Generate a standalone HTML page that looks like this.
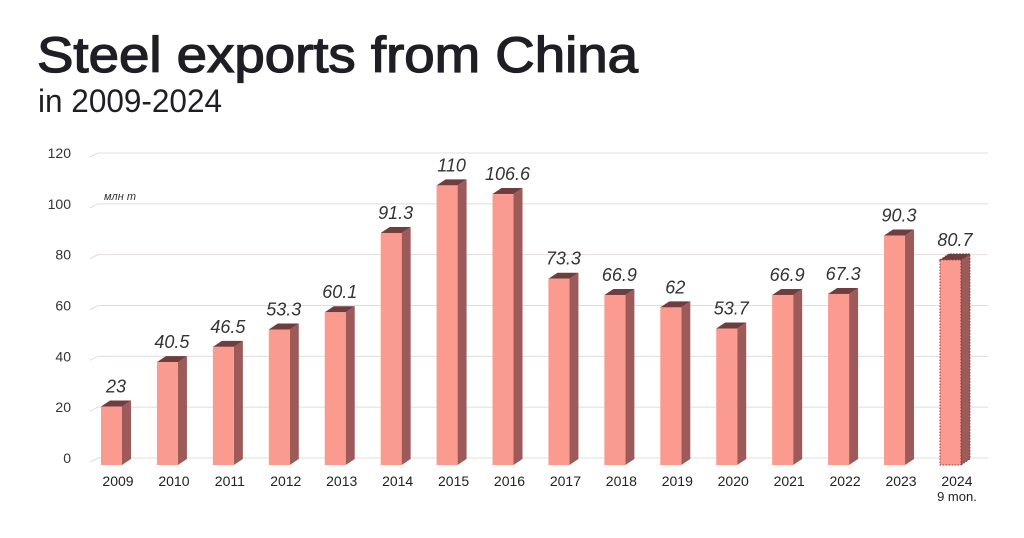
<!DOCTYPE html>
<html><head><meta charset="utf-8"><style>
html,body{margin:0;padding:0;background:#fff;}
svg{display:block;font-family:"Liberation Sans",sans-serif;}
</style></head><body>
<svg id="chart" width="1024" height="538" viewBox="0 0 1024 538" xmlns="http://www.w3.org/2000/svg">
<rect width="1024" height="538" fill="#fff"/>
<text x="37" y="72" font-size="50" fill="#1e1e24" stroke="#1e1e24" stroke-width="1.3" textLength="601" lengthAdjust="spacingAndGlyphs">Steel exports from China</text>
<text x="38" y="112" font-size="32" fill="#1e1e24" textLength="184" lengthAdjust="spacingAndGlyphs">in 2009-2024</text>
<text x="104" y="200" font-size="11" font-style="italic" fill="#333">млн т</text>
<g id="grid"></g><g id="bars"></g><g id="labels"></g>
</svg>
<script>
const categories=["2009","2010","2011","2012","2013","2014","2015","2016","2017","2018","2019","2020","2021","2022","2023","2024"];
const values=[23,40.5,46.5,53.3,60.1,91.3,110,106.6,73.3,66.9,62,53.7,66.9,67.3,90.3,80.7];
const valueLabels=["23","40.5","46.5","53.3","60.1","91.3","110","106.6","73.3","66.9","62","53.7","66.9","67.3","90.3","80.7"];
const yTicks=[0,20,40,60,80,100,120];
const NS="http://www.w3.org/2000/svg";
function y(v){return 458-v*(305/120);}
function x(i){return 118+i*55.93;}
function mk(tag,attrs,parent){const e=document.createElementNS(NS,tag);for(const k in attrs)e.setAttribute(k,attrs[k]);parent.appendChild(e);return e;}
const grid=document.getElementById('grid'),bars=document.getElementById('bars'),labels=document.getElementById('labels');
yTicks.forEach(t=>{
 const gy=y(t);
 const l=mk('path',{d:`M90 ${gy+4} L98 ${gy} L988 ${gy}`,stroke:'#e4dcdc',fill:'none','stroke-width':1},grid);
 
 
 const tx=mk('text',{x:71,y:gy+5,'text-anchor':'end','font-size':14,fill:'#333'},grid);
 tx.textContent=t;
 
 
});
const fw=21,sw=9,dy=6;
categories.forEach((c,i)=>{
 const fl=x(i)-17, base=465, top=base-values[i]*(305/120);
 const g=mk('g',{},bars);
 
 
 const dash=i===15?{'stroke':'#7a3e3e','stroke-dasharray':'1.5 1.5','stroke-width':1}:{};
 mk('polygon',Object.assign({points:`${fl+fw},${top} ${fl+fw+sw},${top-dy} ${fl+fw+sw},${base-dy} ${fl+fw},${base}`,fill:'#9c5a5a'},dash),g);
 mk('polygon',Object.assign({points:`${fl},${top} ${fl+sw},${top-dy} ${fl+fw+sw},${top-dy} ${fl+fw},${top}`,fill:'#6f3d3d'},dash),g);
 mk('rect',Object.assign({x:fl,y:top,width:fw,height:base-top,fill:'#fb9a8f'},dash),g);
 const vt=mk('text',{x:fl+15,y:top-14,'text-anchor':'middle','font-size':18,'font-style':'italic',fill:'#333'},labels);
 vt.textContent=valueLabels[i];
 
 
 const ct=mk('text',{x:x(i),y:486,'text-anchor':'middle','font-size':14,fill:'#222'},labels);
 ct.textContent=c;
 
 
});
const sub=mk('text',{x:x(15),y:501,'text-anchor':'middle','font-size':13,fill:'#222'},labels);
sub.textContent="9 mon.";


</script>
</body></html>
